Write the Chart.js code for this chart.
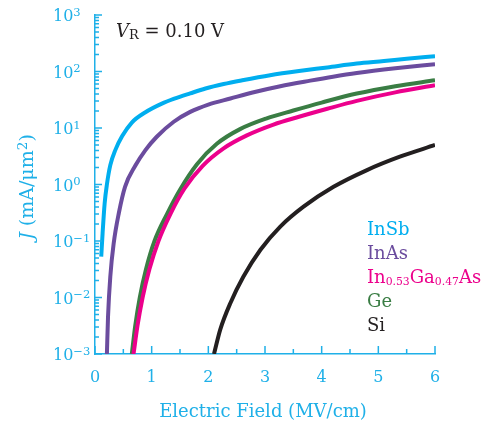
<!DOCTYPE html>
<html>
<head>
<meta charset="utf-8">
<script src="https://cdn.jsdelivr.net/npm/chart.js@4"></script>
<style>
html, body { margin: 0; padding: 0; background: #fff; }
</style>
</head>
<body>
<canvas id="chart" width="489" height="423"></canvas>
<script>
// values (E in MV/cm, J in mA/um^2)
let insbField = [0.11, 0.134, 0.17, 0.21, 0.27, 0.36, 0.48, 0.65, 0.89, 1.18, 1.4, 1.68, 1.95, 2.27, 2.6, 3.09, 3.6, 4.1, 4.62, 5.1, 5.5, 6.0]
let insbJ = [0.053, 0.137, 0.46, 1.0, 2.2, 4.1, 7.2, 12.5, 19, 27, 33, 41, 50, 60, 70, 86, 102, 118, 138, 153, 168, 186]

let inasField = [0.21, 0.23, 0.27, 0.33, 0.42, 0.53, 0.71, 0.89, 1.09, 1.39, 1.68, 2.0, 2.39, 2.8, 3.27, 3.8, 4.2, 4.62, 5.3, 6.0]
let inasJ = [0.001, 0.0046, 0.0235, 0.091, 0.31, 0.91, 2.14, 4.06, 7.0, 12.9, 19.3, 26, 33.3, 43, 55, 69, 81, 94, 114, 135]

let ingaasField = [0.68, 0.75, 0.84, 0.96, 1.12, 1.33, 1.58, 1.9, 2.27, 2.68, 3.15, 3.6, 4.1, 4.62, 5.3, 6.0]
let ingaasJ = [0.001, 0.00316, 0.01, 0.0316, 0.1, 0.30, 0.85, 2.14, 4.37, 7.4, 11.5, 15.8, 21.9, 30.2, 42.7, 57]

let geField = [0.65, 0.71, 0.79, 0.9, 1.05, 1.27, 1.5, 1.8, 2.15, 2.56, 3.03, 3.5, 4.0, 4.62, 5.3, 6.0]
let geJ = [0.001, 0.00316, 0.01, 0.0316, 0.1, 0.30, 0.81, 2.29, 5.25, 9.55, 14.8, 20.4, 28.2, 40.7, 55, 70]

let siField = [2.1, 2.21, 2.39, 2.62, 2.92, 3.27, 3.68, 4.21, 4.8, 5.38, 6.0]
let siJ = [0.001, 0.0027, 0.008, 0.0235, 0.07, 0.18, 0.405, 0.91, 1.8, 3.1, 5.0]

let seriesNames = ["InSb", "InAs", "In0.53Ga0.47As", "Ge", "Si"]
let seriesColors = ["#00aeef", "#6b4c9e", "#ec008c", "#3a7d44", "#231f20"]

let yExponents = [-3, -2, -1, 0, 1, 2, 3]
let xTicks = [0, 1, 2, 3, 4, 5, 6]

let cyan = "#1fb0e8"
let serif = '"DejaVu Serif", serif'

function points(xs, ys) {
    return xs.map((x, i) => ({x: x, y: ys[i]}))
}

// draw runs of text, some of them sub/superscript or italic
function drawParts(ctx, parts, x, y, size, small=0.72) {
    for(let p of parts) {
        let s = (p.sub || p.sup) ? size * small : size
        ctx.font = `${p.italic ? "italic " : ""}${s}px ${serif}`
        let dy = p.sub ? size * 0.1 : p.sup ? -size * 0.32 : 0
        ctx.fillText(p.t, x, y + dy)
        x += ctx.measureText(p.t).width
    }
    return x
}

function partsWidth(ctx, parts, size, small=0.72) {
    let w = 0
    for(let p of parts) {
        let s = (p.sub || p.sup) ? size * small : size
        ctx.font = `${p.italic ? "italic " : ""}${s}px ${serif}`
        w += ctx.measureText(p.t).width
    }
    return w
}

// "In0.53Ga0.47As" -> subscripted numbers
function nameParts(name) {
    return name.split(/(\d+\.\d+)/).filter(t => t !== "").map(t => ({t: t, sub: /\d/.test(t)}))
}

let decorations = {
    id: "decorations",
    afterDraw(chart) {
        let ctx = chart.ctx
        let xs = chart.scales.x
        let ys = chart.scales.y
        let area = chart.chartArea

        ctx.save()
        ctx.strokeStyle = cyan
        ctx.lineWidth = 1.5

        // inward ticks, y (log)
        ctx.beginPath()
        for(let e of yExponents) {
            let py = ys.getPixelForValue(Math.pow(10, e))
            ctx.moveTo(area.left, py)
            ctx.lineTo(area.left + 7, py)
            if(e < 3) {
                for(let k = 2; k < 10; k++) {
                    let pm = ys.getPixelForValue(k * Math.pow(10, e))
                    ctx.moveTo(area.left, pm)
                    ctx.lineTo(area.left + 4, pm)
                }
            }
        }
        // inward ticks, x
        for(let v = 0; v <= 6; v += 0.5) {
            let px = xs.getPixelForValue(v)
            let len = Number.isInteger(v) ? 8 : 5
            ctx.moveTo(px, area.bottom)
            ctx.lineTo(px, area.bottom - len)
        }
        ctx.stroke()

        // y tick labels 10^n
        ctx.fillStyle = cyan
        ctx.textAlign = "left"
        ctx.textBaseline = "alphabetic"
        for(let e of yExponents) {
            let py = ys.getPixelForValue(Math.pow(10, e))
            drawParts(ctx, [{t: "10"}, {t: String(e).replace("-", "\u2212"), sup: true}], 53, py + 6, 16)
        }

        // axis titles
        let yTitle = [{t: "J", italic: true}, {t: " (mA/\u03bcm"}, {t: "2", sup: true}, {t: ")"}]
        ctx.save()
        ctx.translate(33, 187)
        ctx.rotate(-Math.PI / 2)
        drawParts(ctx, yTitle, -partsWidth(ctx, yTitle, 19) / 2, 0, 19)
        ctx.restore()

        let xTitle = [{t: "Electric Field (MV/cm)"}]
        drawParts(ctx, xTitle, 263 - partsWidth(ctx, xTitle, 18) / 2, 417, 18)

        // annotation
        ctx.fillStyle = "#231f20"
        drawParts(ctx, [{t: "V", italic: true}, {t: "R", sub: true}, {t: " = 0.10 V"}], 116, 37, 18)

        // legend
        chart.data.datasets.forEach((ds, i) => {
            ctx.fillStyle = ds.borderColor
            drawParts(ctx, nameParts(ds.label), 367, 235 + i * 24, 18, 0.6)
        })

        ctx.restore()
    }
}

let fields = [insbField, inasField, ingaasField, geField, siField]
let currents = [insbJ, inasJ, ingaasJ, geJ, siJ]

window.onload = () => {
    let ctx = document.querySelector("#chart").getContext("2d")

    new Chart(ctx, {
        type: "line",
        data: {
            datasets: seriesNames.map((name, i) => ({
                label: name,
                data: points(fields[i], currents[i]),
                borderColor: seriesColors[i],
                backgroundColor: seriesColors[i],
                borderWidth: 4,
                pointRadius: 0,
                cubicInterpolationMode: "monotone",
                fill: false
            }))
        },
        options: {
            responsive: false,
            animation: false,
            events: [],
            layout: {padding: {left: 0, right: 54, top: 15, bottom: 0}},
            plugins: {legend: {display: false}, tooltip: {enabled: false}},
            scales: {
                x: {
                    type: "linear",
                    min: 0,
                    max: 6,
                    afterBuildTicks: scale => { scale.ticks = xTicks.map(v => ({value: v})) },
                    afterFit: scale => { scale.height = 69 },
                    grid: {display: false, drawTicks: false, tickLength: 0},
                    border: {display: true, color: cyan, width: 1.5},
                    ticks: {
                        color: cyan,
                        padding: 14,
                        maxRotation: 0,
                        font: {family: serif, size: 16}
                    }
                },
                y: {
                    type: "logarithmic",
                    min: 1e-3,
                    max: 1e3,
                    afterBuildTicks: scale => { scale.ticks = yExponents.map(e => ({value: Math.pow(10, e)})) },
                    afterFit: scale => { scale.width = 95 },
                    grid: {display: false, drawTicks: false, tickLength: 0},
                    border: {display: true, color: cyan, width: 1.5},
                    ticks: {display: false}
                }
            }
        },
        plugins: [decorations]
    })
}
</script>
</body>
</html>
